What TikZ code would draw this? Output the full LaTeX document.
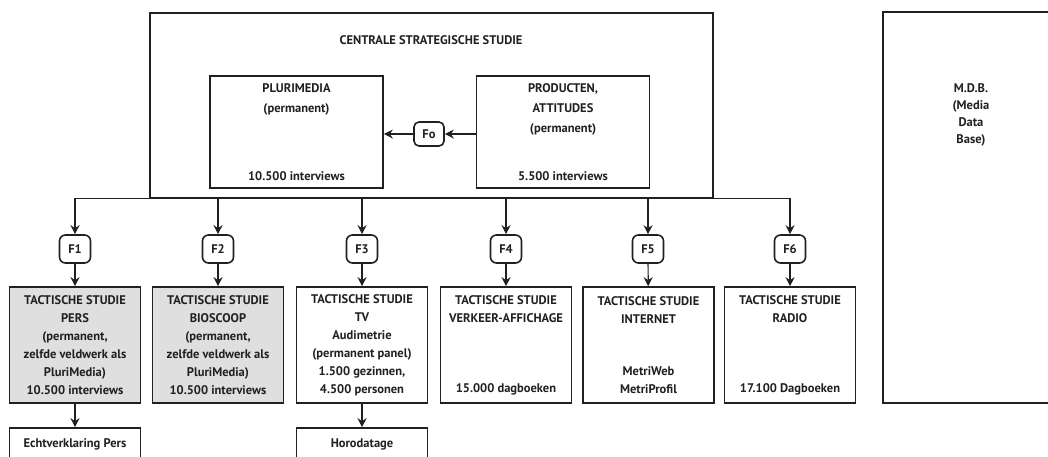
\documentclass[tikz,border=0pt]{standalone}
\usepackage{fontspec}
\setmainfont{PT Sans}
\usetikzlibrary{arrows.meta}

\definecolor{ink}{HTML}{231F20}
\definecolor{shade}{HTML}{DFDFDF}

\begin{document}
\begin{tikzpicture}[x=1pt,y=-1pt,
	box/.style={draw=ink,text=ink,line width=1.6pt,align=center,inner sep=0pt,font=\bfseries\fontsize{12.5}{18}\selectfont},
	inner/.style={box,minimum width=173pt,minimum height=112pt,font=\bfseries\fontsize{12.5}{20}\selectfont},
	tact/.style={box,minimum width=131pt,minimum height=116pt},
	sub/.style={box,minimum width=131pt,minimum height=32pt},
	flow/.style={box,rounded corners=6pt,minimum width=31pt,minimum height=28pt},
	conn/.style={draw=ink,line width=1.2pt,-{Stealth[length=9pt,width=9pt]}}]
	\useasboundingbox (0,0) rectangle (1048,456);

	% centrale studie
	\node[box,minimum width=563pt,minimum height=185pt] (central) at (431.5,105.5) {};
	\node[text=ink,font=\bfseries\fontsize{12.5}{18}\selectfont] (title) at (431,40) {CENTRALE STRATEGISCHE STUDIE};
	\node[inner] (pluri) at (296.5,132) {PLURIMEDIA\\(permanent)\\[48pt]10.500 interviews};
	\node[inner] (prod) at (563,132) {PRODUCTEN,\\ATTITUDES\\(permanent)\\[28pt]5.500 interviews};
	\node[flow,minimum width=30pt,minimum height=24pt,rounded corners=5pt] (fo) at (429,134) {Fo};
	\draw[conn] (prod.west |- fo) -- (fo);
	\draw[conn] (fo) -- (pluri.east |- fo);

	% M.D.B.
	\node[box,minimum width=180pt,minimum height=391pt] (mdb) at (973,207.5) {};
	\node[text=ink,align=center,font=\bfseries\fontsize{12.5}{17}\selectfont] (mdbtxt) at (971,115) {M.D.B.\\(Media\\Data\\Base)};

	% filters
	\node[flow] (f1) at (75,249) {F1};
	\node[flow] (f2) at (218,249) {F2};
	\node[flow] (f3) at (362,249) {F3};
	\node[flow] (f4) at (506,249) {F4};
	\node[flow] (f5) at (648,249) {F5};
	\node[flow] (f6) at (790,249) {F6};

	% tactische studies
	\node[tact,fill=shade] (t1) at (75,345) {TACTISCHE STUDIE\\PERS\\(permanent,\\zelfde veldwerk als\\PluriMedia)\\10.500 interviews};
	\node[tact,fill=shade] (t2) at (218,345) {TACTISCHE STUDIE\\BIOSCOOP\\(permanent,\\zelfde veldwerk als\\PluriMedia)\\10.500 interviews};
	\node[tact] (t3) at (362,345) {TACTISCHE STUDIE\\TV\\Audimetrie\\(permanent panel)\\1.500 gezinnen,\\4.500 personen};
	\node[tact] (t4) at (506,345) {TACTISCHE STUDIE\\VERKEER-AFFICHAGE\\[52pt]15.000 dagboeken};
	\node[tact] (t5) at (648.5,345) {TACTISCHE STUDIE\\INTERNET\\[34pt]MetriWeb\\MetriProfil};
	\node[tact] (t6) at (790,345) {TACTISCHE STUDIE\\RADIO\\[52pt]17.100 Dagboeken};

	\node[sub] (e1) at (75,444) {Echtverklaring Pers};
	\node[sub] (e3) at (362,444) {Horodatage};

	% verbindingen
	\draw[conn] (central.south west) -| (f1);
	\draw[conn] (central.south -| f2) -- (f2);
	\draw[conn] (central.south -| f3) -- (f3);
	\draw[conn] (central.south -| f4) -- (f4);
	\draw[conn] (central.south -| f5) -- (f5);
	\draw[conn] (central.south east) -| (f6);
	\foreach \i in {1,...,6}
		\draw[conn] (f\i) -- (t\i);
	\draw[conn] (t1) -- (e1);
	\draw[conn] (t3) -- (e3);
\end{tikzpicture}
\end{document}
